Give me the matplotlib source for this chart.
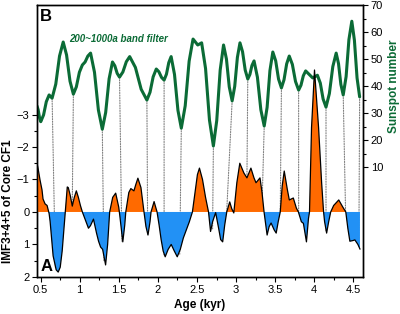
import matplotlib
matplotlib.use("Agg")
import matplotlib.pyplot as plt
import numpy as np
from matplotlib.patches import ConnectionPatch

plt.rcParams['font.family'] = ['Liberation Sans', 'DejaVu Sans']

# IMF3+4+5 of core CF1 (left axis, inverted)
imf_age = [0.455, 0.468, 0.494, 0.519, 0.532, 0.558, 0.584, 0.597, 0.61, 0.623,
           0.661, 0.70, 0.726, 0.752, 0.777, 0.803, 0.816, 0.829, 0.842, 0.855,
           0.881, 0.906, 0.932, 0.958, 0.984, 1.01, 1.035, 1.074, 1.113, 1.139,
           1.177, 1.216, 1.242, 1.268, 1.294, 1.332, 1.358, 1.384, 1.423, 1.461,
           1.487, 1.50, 1.513, 1.552, 1.577, 1.59, 1.629, 1.655, 1.694, 1.719,
           1.745, 1.784, 1.823, 1.848, 1.874, 1.90, 1.913, 1.952, 1.99, 2.016,
           2.042, 2.068, 2.094, 2.132, 2.171, 2.21, 2.248, 2.287, 2.326, 2.365,
           2.403, 2.442, 2.481, 2.506, 2.532, 2.571, 2.61, 2.648, 2.674, 2.70,
           2.739, 2.777, 2.803, 2.829, 2.855, 2.881, 2.919, 2.945, 2.971, 3.01,
           3.048, 3.10, 3.139, 3.19, 3.229, 3.255, 3.306, 3.332, 3.358, 3.397,
           3.423, 3.448, 3.487, 3.513, 3.539, 3.565, 3.59, 3.616, 3.655, 3.681,
           3.732, 3.771, 3.797, 3.835, 3.861, 3.90, 3.926, 3.939, 3.965, 4.003,
           4.055, 4.094, 4.119, 4.132, 4.158, 4.184, 4.21, 4.248, 4.313, 4.365,
           4.403, 4.429, 4.455, 4.494, 4.519, 4.558, 4.584]
imf_val = [-1.5, -1.35, -0.98, -0.68, -0.4, -0.25, -0.2, -0.08, 0.05, 0.3,
           1.35, 1.78, 1.85, 1.7, 1.2, 0.4, 0.0, -0.4, -0.77, -0.75,
           -0.5, -0.18, -0.45, -0.65, -0.45, -0.2, 0.0, 0.25, 0.5, 0.42,
           0.22, 0.65, 0.9, 1.08, 1.15, 1.63, 1.0, 0.0, -0.45, -0.58,
           -0.3, -0.15, 0.1, 0.92, 0.4, 0.0, -0.6, -0.72, -0.65, -0.85,
           -1.04, -0.75, 0.0, 0.45, 0.71, 0.3, 0.0, -0.32, 0.0, 0.4,
           0.85, 1.2, 1.38, 1.15, 1.0, 1.2, 1.38, 1.15, 0.8, 0.55,
           0.3, 0.0, -0.7, -1.15, -1.35, -1.0, -0.45, 0.0, 0.6, 0.3,
           0.02, 0.5, 0.85, 0.92, 0.4, 0.0, -0.31, -0.1, 0.03, -0.9,
           -1.5, -1.2, -1.05, -1.35, -1.05, -0.9, -1.05, -0.6, 0.0, 0.71,
           0.45, 0.34, 0.55, 0.65, 0.3, 0.0, -0.8, -1.26, -0.7, -0.37,
           -0.43, -0.12, 0.0, 0.3, 0.35, 0.92, 0.2, 0.0, -2.6, -4.37,
           -2.6, -0.9, 0.0, 0.3, 0.65, 0.3, 0.0, -0.2, -0.37, -0.15,
           0.0, 0.5, 0.9, 0.88, 0.86, 1.0, 1.14]

# 200~1000a band filter of sunspot number (right axis)
sun_age = [0.455, 0.47, 0.487, 0.503, 0.539, 0.574, 0.61, 0.648, 0.695, 0.743,
           0.79, 0.833, 0.877, 0.92, 0.958, 0.997, 1.035, 1.07, 1.105, 1.14,
           1.19, 1.24, 1.29, 1.333, 1.377, 1.42, 1.45, 1.48, 1.51, 1.553,
           1.597, 1.64, 1.713, 1.787, 1.86, 1.90, 1.94, 1.98, 2.013, 2.047,
           2.08, 2.11, 2.14, 2.17, 2.213, 2.257, 2.30, 2.35, 2.40, 2.45,
           2.51, 2.56, 2.61, 2.66, 2.71, 2.753, 2.797, 2.84, 2.877, 2.913,
           2.95, 2.983, 3.017, 3.05, 3.083, 3.117, 3.15, 3.177, 3.203, 3.23,
           3.273, 3.317, 3.36, 3.397, 3.433, 3.47, 3.507, 3.543, 3.58, 3.613,
           3.647, 3.68, 3.72, 3.76, 3.80, 3.83, 3.86, 3.89, 3.935, 3.98,
           4.04, 4.077, 4.113, 4.15, 4.193, 4.237, 4.28, 4.31, 4.34, 4.37,
           4.407, 4.443, 4.48, 4.513, 4.547, 4.58]
sun_val = [32.6, 31.2, 28.3, 26.8, 29.3, 34.2, 36.7, 35.5, 40.7, 51.1,
           56.3, 51.5, 41.8, 37.0, 39.7, 45.1, 47.8, 48.9, 51.1, 52.2,
           45.1, 31.1, 24.0, 30.2, 42.7, 48.9, 47.5, 44.7, 43.3, 45.2,
           49.0, 50.9, 46.9, 38.8, 34.8, 37.7, 43.4, 46.3, 45.3, 43.2,
           42.2, 44.4, 48.7, 50.9, 44.3, 31.0, 24.4, 32.7, 49.2, 57.4,
           55.2, 56.0, 46.5, 27.4, 17.8, 27.2, 45.9, 55.2, 50.0, 39.7,
           34.5, 39.9, 50.6, 56.0, 52.7, 45.9, 42.6, 44.3, 47.6, 49.3,
           43.3, 31.2, 25.2, 32.1, 45.7, 52.6, 49.3, 42.6, 39.3, 42.3,
           48.2, 51.1, 48.0, 41.7, 38.5, 40.3, 43.8, 45.6, 44.3, 43.0,
           44.0, 41.1, 35.2, 32.2, 37.2, 47.2, 52.2, 48.3, 40.6, 36.7,
           43.5, 57.2, 64.0, 57.0, 43.0, 36.0]

# dotted links: sunspot minima -> IMF troughs
link_sun_age = [0.648, 0.92, 1.29, 1.51, 1.86, 2.08, 2.30, 2.71, 2.95, 3.15,
                3.36, 3.58, 3.80, 4.15, 4.37, 4.58]
link_sun_val = [35.5, 37.0, 24.0, 43.3, 34.8, 42.2, 24.4, 17.8, 34.5, 42.6,
                25.2, 39.3, 38.5, 32.2, 36.7, 36.0]
link_imf_age = [0.69, 0.906, 1.31, 1.54, 1.87, 2.08, 2.28, 2.70, 2.88, 3.139,
                3.33, 3.565, 3.80, 4.15, 4.40, 4.57]
link_imf_val = [1.7, -0.18, 1.5, 0.9, 0.7, 1.35, 1.3, 0.55, 0.0, -1.05,
                0.0, 0.0, 0.0, 0.6, 0.0, 1.05]

orange = '#FF6A00'
blue = '#2291F5'
green = '#0B6B36'

fig = plt.figure(figsize=(4.0, 3.14), dpi=100)
ax = fig.add_axes([0.0925, 0.118, 0.9075 - 0.0925, 0.984 - 0.118])
ax2 = ax.twinx()

imf_age = np.array(imf_age)
imf_val = np.array(imf_val)
ax.fill_between(imf_age, imf_val, 0, where=imf_val <= 0, interpolate=True,
                color=orange, lw=0)
ax.fill_between(imf_age, imf_val, 0, where=imf_val >= 0, interpolate=True,
                color=blue, lw=0)
ax.plot(imf_age, imf_val, color='black', lw=0.9)
ax.set_xlim(0.455, 4.623)
ax.set_ylim(2.0, -6.37)
ax.set_yticks([-3, -2, -1, 0, 1, 2])
ax.set_yticks(np.arange(-3, 2.01, 0.5), minor=True)
ax.set_xticks([0.5, 1, 1.5, 2, 2.5, 3, 3.5, 4, 4.5])
ax.set_xticklabels(['0.5', '1', '1.5', '2', '2.5', '3', '3.5', '4', '4.5'])
ax.set_xticks(np.arange(0.5, 4.6, 0.25), minor=True)
ax.tick_params(axis='both', which='major', length=3.5, width=0.8, labelsize=8, pad=2)
ax.tick_params(axis='both', which='minor', length=2, width=0.8)
ax.set_xlabel('Age (kyr)', fontsize=8.5, fontweight='bold', labelpad=3)
ax.set_ylabel('IMF3+4+5 of Core CF1', fontsize=8.5, fontweight='bold')
ax.yaxis.set_label_coords(-0.07, 0.28)

ax2.plot(sun_age, sun_val, color=green, lw=2.2, solid_capstyle='round')
ax2.set_ylim(-30.7, 70)
ax2.set_yticks([10, 20, 30, 40, 50, 60, 70])
ax2.set_yticks(np.arange(10, 70.1, 5), minor=True)
ax2.tick_params(axis='y', which='major', length=3.5, width=0.8, labelsize=8, pad=2)
ax2.tick_params(axis='y', which='minor', length=2, width=0.8)
ax2.set_ylabel('Sunspot number', fontsize=8.5, fontweight='bold', color=green)
ax2.yaxis.set_label_coords(1.077, 0.70)

for xs, ys, xi, yi in zip(link_sun_age, link_sun_val, link_imf_age, link_imf_val):
    con = ConnectionPatch(xyA=(xs, ys), coordsA=ax2.transData,
                          xyB=(xi, yi), coordsB=ax.transData,
                          color='#808080', lw=0.8, linestyle=(0, (1, 1.3)), zorder=0)
    ax2.add_artist(con)

for a in (ax, ax2):
    for s in a.spines.values():
        s.set_linewidth(1.0)

ax.set_zorder(ax2.get_zorder() + 1)
ax.patch.set_visible(False)

ax.text(0.008, 0.985, 'B', transform=ax.transAxes, fontsize=12, fontweight='bold',
        va='top', ha='left')
ax.text(0.012, 0.012, 'A', transform=ax.transAxes, fontsize=12, fontweight='bold',
        va='bottom', ha='left')
ax.text(0.10, 0.875, '200~1000a band filter', transform=ax.transAxes, fontsize=7,
        fontweight='bold', style='italic', color=green, va='center', ha='left')

fig.savefig('out.png', dpi=100)
